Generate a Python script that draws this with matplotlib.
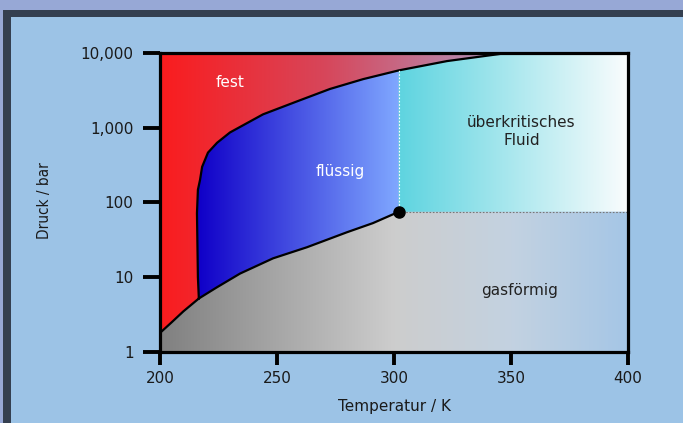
import matplotlib
matplotlib.use("Agg")
import matplotlib.pyplot as plt
from matplotlib.patches import Polygon, Rectangle
from matplotlib.ticker import FixedLocator, FixedFormatter
import numpy as np

# phase boundaries (T in K, p in bar)
sub_T = [200.0, 205.0, 210.0, 216.6]
sub_p = [1.8, 2.5, 3.5, 5.2]

melt_T = [216.6, 216.2, 215.8, 216.2, 217.1, 218.0, 220.5, 224.4, 229.9, 244.0,
          258.5, 272.6, 286.8, 302.0, 322.7, 348.3]
melt_p = [5.2, 10.0, 72.0, 148.0, 200.0, 300.0, 465.0, 630.0, 865.0, 1510.0,
          2250.0, 3300.0, 4470.0, 5850.0, 7800.0, 10000.0]

vap_T = [216.6, 224.2, 234.2, 248.3, 262.8, 279.9, 291.0, 302.0]
vap_p = [5.2, 7.3, 11.2, 17.9, 25.2, 40.0, 53.0, 75.0]

crit_T, crit_p = 302.0, 75.0

x_ticks = [200, 250, 300, 350, 400]
y_ticks = [1, 10, 100, 1000, 10000]
y_labels = ["1", "10", "100", "1,000", "10,000"]

region_labels = ["fest", "flüssig", "überkritisches\nFluid", "gasförmig"]
region_pos = [(230.0, 4000.0), (277.0, 257.0), (354.5, 880.0), (353.5, 6.6)]
region_col = ["white", "white", "#222222", "#222222"]

bg = "#9cc3e6"

fig = plt.figure(figsize=(6.83, 4.23), dpi=100)
fig.patch.set_facecolor("#97a8d6")
fig.patches.append(Rectangle((3 / 683, 0), 1, 1 - 10 / 423, transform=fig.transFigure,
                             facecolor="#343f50", edgecolor="none", zorder=-5))
fig.patches.append(Rectangle((11 / 683, 0), 1, 1 - 17.5 / 423, transform=fig.transFigure,
                             facecolor=bg, edgecolor="none", zorder=-4))

ax = fig.add_axes([160 / 683, 1 - 352 / 423, 468 / 683, 299 / 423])
ax.set_facecolor("none")
ax.set_yscale("log")
ax.set_xlim(200, 400)
ax.set_ylim(1, 10000)


def gradient(stops):
    # stops: list of (fraction, (r, g, b)) across 200..400 K
    n = 400
    f = np.linspace(0, 1, n)
    fr = [s[0] for s in stops]
    img = np.zeros((1, n, 3))
    for c in range(3):
        img[0, :, c] = np.interp(f, fr, [s[1][c] / 255 for s in stops])
    return img


def fill_region(verts, stops):
    poly = Polygon(verts, closed=True, transform=ax.transData, facecolor="none", edgecolor="none")
    ax.add_patch(poly)
    im = ax.imshow(gradient(stops), extent=(200, 400, 1, 10000), aspect="auto",
                   interpolation="bilinear", zorder=1)
    im.set_clip_path(poly)


ic = melt_T.index(crit_T)

# solid
solid = [(200, sub_p[0])] + list(zip(sub_T, sub_p)) + list(zip(melt_T, melt_p)) + [(200, 10000)]
fill_region(solid, [(0, (250, 28, 30)), (0.35, (215, 70, 90)), (0.75, (175, 155, 195)), (1, (160, 175, 215))])

# liquid
liquid = list(zip(vap_T, vap_p)) + list(zip(melt_T[:ic + 1], melt_p[:ic + 1]))[::-1]
fill_region(liquid, [(0, (16, 0, 200)), (0.08, (16, 0, 200)), (0.51, (128, 168, 255)), (1, (128, 168, 255))])

# supercritical fluid
sc = [(crit_T, crit_p), (400, crit_p), (400, 10000)] + list(zip(melt_T[ic:], melt_p[ic:]))[::-1]
fill_region(sc, [(0, (94, 212, 224)), (0.51, (94, 212, 224)), (1, (250, 252, 253))])

# gas
gas = [(200, 1), (400, 1), (400, crit_p)] + list(zip(vap_T, vap_p))[::-1] + list(zip(sub_T, sub_p))[::-1]
fill_region(gas, [(0, (128, 128, 128)), (0.5, (205, 205, 205)), (0.75, (195, 210, 225)), (1, (165, 198, 230))])

# boundaries
ax.plot(sub_T, sub_p, color="black", lw=1.6, zorder=3)
ax.plot(melt_T, melt_p, color="black", lw=1.6, zorder=3)
ax.plot(vap_T, vap_p, color="black", lw=1.6, zorder=3)
ax.plot([crit_T, crit_T], [crit_p, melt_p[ic]], color="white", lw=0.8, ls=(0, (1.5, 1.5)), zorder=3)
ax.plot([crit_T, 400], [crit_p, crit_p], color="#777777", lw=0.8, ls=(0, (1.5, 1.5)), zorder=3)
ax.plot([crit_T], [crit_p], "o", color="black", ms=8, zorder=4)

for txt, (tx, ty), c in zip(region_labels, region_pos, region_col):
    ax.text(tx, ty, txt, color=c, fontsize=11, ha="center", va="center", zorder=5,
            linespacing=1.25)

for s in ax.spines.values():
    s.set_linewidth(2.3)
    s.set_zorder(6)

ax.xaxis.set_major_locator(FixedLocator(x_ticks))
ax.yaxis.set_major_locator(FixedLocator(y_ticks))
ax.yaxis.set_major_formatter(FixedFormatter(y_labels))
ax.yaxis.set_minor_locator(FixedLocator([]))
ax.tick_params(axis="x", length=9, width=2.8, direction="out", labelsize=11,
               pad=5, colors="black", labelcolor="#1a1a1a")
ax.tick_params(axis="y", length=12, width=2.8, direction="out", labelsize=11,
               pad=7, colors="black", labelcolor="#1a1a1a")

ax.set_xlabel("Temperatur / K", fontsize=11, color="#1a1a1a", labelpad=9)
fig.text(45 / 683, 1 - 201 / 423, "Druck / bar", rotation=90, fontsize=11,
         fontstretch="condensed", color="#1a1a1a", ha="center", va="center")

fig.savefig("out.png", dpi=100, facecolor=fig.get_facecolor())
